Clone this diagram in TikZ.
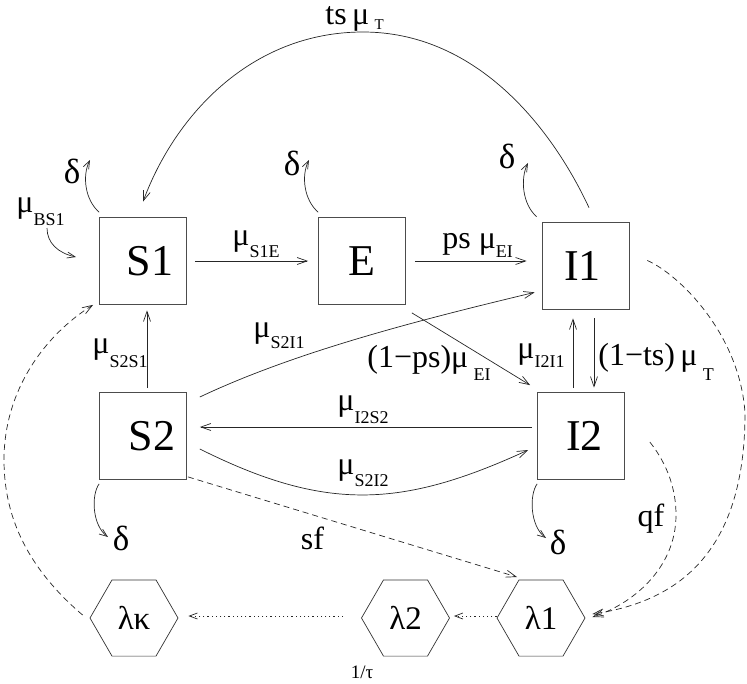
\documentclass[tikz,border=0pt]{standalone}
\usepackage{fontspec}
\setmainfont{Liberation Serif}
\usetikzlibrary{arrows.meta,shapes.geometric,calc}
\newcommand{\lsb}[2][11pt]{\raisebox{-#1}{\fontsize{18}{18}\selectfont #2}}
\newcommand{\lsbs}[2][5pt]{\raisebox{-#1}{\fontsize{15}{15}\selectfont #2}}
\begin{document}
\begin{tikzpicture}[x=1pt,y=-1pt,
  line width=0.7pt, draw=black!85,
  box/.style={draw=black!70, minimum size=87pt, inner sep=0pt, font=\fontsize{44}{44}\selectfont},
  hex/.style={draw=black!80, regular polygon, regular polygon sides=6, minimum size=88pt, inner sep=0pt, font=\fontsize{33}{33}\selectfont},
  lab/.style={inner sep=0pt, anchor=base west, font=\fontsize{32}{32}\selectfont},
  clab/.style={inner sep=0pt, font=\fontsize{32}{32}\selectfont},
  dlab/.style={inner sep=0pt, font=\fontsize{35}{35}\selectfont},
  arr/.style={-{Straight Barb[length=10pt,width=7pt]}},
  sarr/.style={-{Straight Barb[length=8pt,width=6pt]}},
  dsh/.style={arr, dash pattern=on 6pt off 4pt},
  dtt/.style={-{Straight Barb[length=8pt,width=6pt]}, dash pattern=on 1.2pt off 3pt},
]
\useasboundingbox (0,0) rectangle (747,683);

% compartments
\node[box] (S1) at (143,261) {\kern14pt S1};
\node[box] (E)  at (362,261) {E};
\node[box] (I1) at (585.5,265.5) {I1\kern6pt};
\node[box] (I2) at (581,436) {\kern7pt I2};
\node[box] (S2) at (143,436) {\kern18pt S2};

% hexagons
\node[hex] (lk) at (134,618) {λκ};
\node[hex] (l2) at (405.5,618) {λ2};
\node[hex] (l1) at (541,618) {λ1};

% delta labels
\node[dlab] (dS1) at (72,171) {δ};
\node[dlab] (dE)  at (292,163) {δ};
\node[dlab] (dI1) at (507,156) {δ};
\node[dlab] (dS2) at (121,538) {δ};
\node[dlab] (dI2) at (558,542) {δ};

% delta arrow tips
\coordinate (tS1) at (90,160);
\coordinate (tE)  at (309,160);
\coordinate (tI1) at (528,163);
\coordinate (tS2) at (108,537);
\coordinate (tI2) at (546,538);

\draw[sarr] ($(S1.north west)+(0,-5)$) .. controls +(-14,-12) and +(-8,16) .. (tS1);
\draw[sarr] ($(E.north west)+(0,-5)$) .. controls +(-14,-12) and +(-8,16) .. (tE);
\draw[sarr] ($(I1.north west)+(-5,-5)$) .. controls +(-14,-12) and +(-8,16) .. (tI1);
\draw[sarr] ($(S2.south west)+(0,4)$) .. controls +(-8,11) and +(-16,-12) .. (tS2);
\draw[sarr] ($(I2.south west)+(0,4)$) .. controls +(-8,11) and +(-16,-12) .. (tI2);

% birth input
\node[lab] (mBS1) at (16,212) {μ\lsb[13pt]{BS1}};
\coordinate (bs)  at (47,228);
\coordinate (bsT) at (76,257);
\draw[sarr] (bs) .. controls (47,243) and (58,253) .. (bsT);

% solid transitions
\draw[arr] ($(S1.east)+(8,0)$) -- ($(E.west)+(-10,0)$);
\node[lab] (mS1E) at (232,245) {μ\lsb[12pt]{S1E}};

\draw[arr] ($(E.east)+(9,0)$) -- ($(I1.west)+(-15,-4.5)$);
\node[lab] (mEI) at (442,248) {ps μ\lsb[9pt]{EI}};

\draw[arr] ($(S2.north)+(4,-4)$) -- ($(S1.south)+(4,5.5)$);
\node[lab] (mS2S1) at (92,353) {μ\lsb[14pt]{S2S1}};

\draw[arr] ($(S2.east)+(13,-39)$) .. controls (299,350) and (428,318) .. ($(I1.south west)+(-7,-17)$);
\node[lab] (mS2I1) at (253,337) {μ\lsb[11pt]{S2I1}};

\draw[arr] ($(E.south east)+(6,8)$) -- ($(I2.north west)+(-7,-7)$);
\node[lab] (mEI2) at (367,367) {(1−ps)μ\,\lsb[13pt]{EI}};

\draw[arr] ($(I2.west)+(-5,-9)$) -- ($(S2.east)+(13,-9)$);
\node[lab] (mI2S2) at (337,410) {μ\lsb[13pt]{I2S2}};

\draw[arr] ($(S2.east)+(13,13)$) .. controls (326,512) and (402,508) .. ($(I2.west)+(-9,14)$);
\node[lab] (mS2I2) at (337,474) {μ\lsb[12pt]{S2I2}};

\draw[arr] ($(I2.north)+(-8,-4)$) -- ($(I1.south)+(-12.5,9)$);
\node[lab] (mI2I1) at (517,358) {μ\lsb[9pt]{I2I1}};

\draw[arr] ($(I1.south)+(8.5,9)$) -- ($(I2.north)+(13,-4.5)$);
\node[lab] (mT2) at (598,365) {(1−ts)\,μ\,\lsb[15pt]{T}};

% treatment arc
\coordinate (apex) at (363,32);
\draw[arr] ($(I1.north)+(3.5,-14)$) .. controls (549,122) and (473,32) .. (apex)
   .. controls (253,32) and (176,113) .. ($(S1.north)+(0,-15.5)$);
\node[lab] (mT) at (325,24) {ts\,μ\,\lsbs[5pt]{T}};

% dashed
\coordinate (lw) at (4,460);
\draw[dsh] ($(lk.west)+(-7,-3)$) .. controls (30,570) and (4,520) .. (lw)
   .. controls (4,390) and (45,335) .. ($(S1.south west)+(-6,0)$);

\draw[dsh] ($(S2.south east)+(1,-3)$) -- ($(l1)+(-24,-41)$);
\node[clab] (sf) at (312.5,538.5) {sf};

\coordinate (rw) at (745,413);
\draw[dsh] ($(I1.east)+(18,-5)$) .. controls (680,275) and (740,335) .. (rw)
   .. controls (745,540) and (690,600) .. ($(l1.east)+(7,-4)$);

\coordinate (qw) at (676,515);
\draw[dsh] ($(I2.east)+(25,6)$) .. controls (668,465) and (676,490) .. (qw)
   .. controls (676,570) and (630,605) .. ($(l1.east)+(7,-1)$);
\node[clab] (qf) at (651,519) {qf};

% dotted
\draw[dtt] ($(l1.west)+(0,-2)$) -- ($(l2.east)+(4,-2)$);
\draw[dtt] ($(l2.west)+(-18,-2)$) -- ($(lk.east)+(10,-2)$);
\node[inner sep=0pt, font=\fontsize{19}{19}\selectfont] (tau) at (362,672) {1/τ};
\end{tikzpicture}
\end{document}
